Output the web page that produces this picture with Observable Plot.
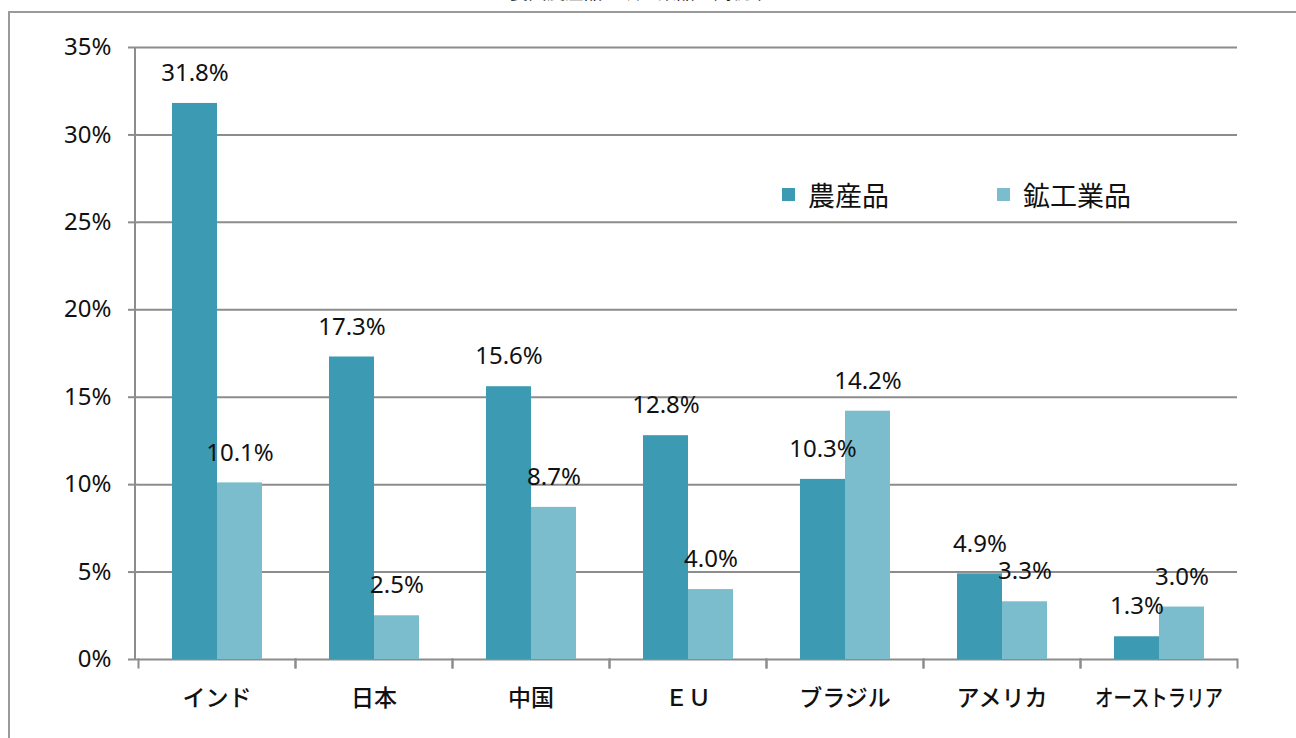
<!DOCTYPE html>
<html><head><meta charset="utf-8">
<script src="https://cdn.jsdelivr.net/npm/d3@7"></script>
<script src="https://cdn.jsdelivr.net/npm/@observablehq/plot@0.6"></script>
<style>
html,body{margin:0;padding:0;background:#fff;overflow:hidden;}
#wrap{position:relative;width:1296px;height:738px;overflow:hidden;}
#border{position:absolute;left:8px;top:11px;right:-4px;bottom:-4px;border-top:2px solid #9a9a9a;border-left:2px solid #9a9a9a;}
#title{position:absolute;left:0;width:1260px;top:-22px;text-align:center;font:18.5px "Noto Sans CJK JP";color:#222;}
#legend{position:absolute;left:782px;top:175px;font:27px "Noto Sans CJK JP";color:#111;display:flex;align-items:center;}
#legend span.sw{display:inline-block;width:13px;height:13px;margin-right:13px;}
#legend .it{display:flex;align-items:center;}
#chart{position:absolute;left:0;top:0;}
</style></head>
<body><div id="wrap"><div id="title"></div><div id="border"></div><div id="chart"></div><div id="legend"></div></div>
<script>
const countries = ["インド","日本","中国","ＥＵ","ブラジル","アメリカ","オーストラリア"];
const series = ["農産品","鉱工業品"];
const agriculture = [31.8,17.3,15.6,12.8,10.3,4.9,1.3];
const industry = [10.1,2.5,8.7,4.0,14.2,3.3,3.0];
const yTicks = [0,5,10,15,20,25,30,35];
const colors = ["#3c9ab2","#7bbccd"];
const titleText = "主要国農産品・鉱工業品の関税率";

const data = [];
countries.forEach((c,i)=>{
  data.push({country:c, series:series[0], value:agriculture[i]});
  data.push({country:c, series:series[1], value:industry[i]});
});

document.getElementById("title").textContent = titleText;

const plot = Plot.plot({
  width:1296, height:738,
  marginTop:47, marginBottom:79, marginLeft:135, marginRight:56,
  style:{fontFamily:"'Noto Sans', sans-serif", background:"transparent"},
  fx:{domain:countries, padding:0, label:null, axis:null},
  x:{domain:series, paddingInner:0, paddingOuter:0.736, axis:null},
  y:{domain:[0,35], label:null},
  color:{domain:series, range:colors},
  marks:[
    Plot.ruleY(yTicks, {stroke:"#8c8c8c", strokeWidth:2}),
    Plot.frame({anchor:"left", stroke:"#8c8c8c", strokeWidth:2, insetTop:612, insetBottom:-8}),
    Plot.frame({anchor:"right", stroke:"#8c8c8c", strokeWidth:2, insetTop:612, insetBottom:-8}),
    Plot.barY(data, {fx:"country", x:"series", y:"value", fill:"series"}),
    Plot.text(data, {fx:"country", x:"series", y:"value", text:d=>d.value.toFixed(1)+"%", dy:-30, fontSize:24, fill:"#111"}),
    Plot.axisY({ticks:yTicks, tickFormat:d=>d+"%", tickSize:10, tickPadding:17, stroke:"#8c8c8c", strokeWidth:2, fontSize:24, fill:"#111", label:null}),
    Plot.axisFx({anchor:"bottom", tickSize:0, tickPadding:30, fontSize:23, fontWeight:500, label:null, fontFamily:"'Noto Sans CJK JP'", fill:"#111"})
  ]
});
document.getElementById("chart").appendChild(plot);

// y-axis domain line derived from the y scale
const ys = plot.scale("y");
d3.select(plot).append("line")
  .attr("x1",135).attr("x2",135)
  .attr("y1",ys.apply(35)).attr("y2",ys.apply(0))
  .attr("stroke","#8c8c8c").attr("stroke-width",2);

// condense long category labels
d3.select(plot).selectAll("[aria-label='fx-axis tick label'] text").each(function(){
  const w = this.getComputedTextLength();
  if (w > 130){ this.setAttribute("textLength",128); this.setAttribute("lengthAdjust","spacingAndGlyphs"); }
});

const lg = document.getElementById("legend");
series.forEach((s,i)=>{
  const it = document.createElement("div");
  it.className="it";
  it.style.marginRight = i===0 ? "108px" : "0";
  const sw = document.createElement("span");
  sw.className="sw"; sw.style.background = colors[i];
  it.appendChild(sw);
  it.appendChild(document.createTextNode(s));
  lg.appendChild(it);
});
</script></body></html>
